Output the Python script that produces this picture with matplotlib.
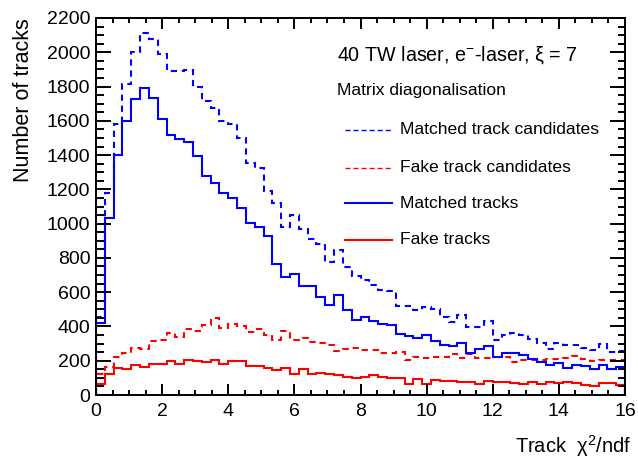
import numpy as np
import matplotlib
matplotlib.use("Agg")
import matplotlib.pyplot as plt
from matplotlib.lines import Line2D
from matplotlib.ticker import MultipleLocator

plt.rcParams['font.family'] = ['Liberation Sans', 'DejaVu Sans']
plt.rcParams['mathtext.fontset'] = 'custom'
plt.rcParams['mathtext.rm'] = 'Liberation Sans'
plt.rcParams['mathtext.it'] = 'Liberation Sans:italic'

# chi2/ndf histograms, 60 bins from 0 to 16
edges = np.linspace(0, 16, 61)

matched_cand = [457, 1176, 1584, 1817, 2002, 2113, 2080, 1992, 1889, 1889,
                1899, 1798, 1714, 1677, 1598, 1584, 1497, 1355, 1326, 1191,
                1121, 982, 1053, 966, 913, 884, 777, 845, 748, 694,
                670, 641, 615, 608, 520, 520, 495, 515, 502, 455,
                428, 464, 395, 395, 432, 321, 353, 364, 353, 325,
                303, 271, 303, 293, 293, 275, 265, 297, 252, 256]

fake_cand = [120, 163, 219, 247, 275, 269, 318, 321, 363, 336,
             387, 374, 406, 449, 391, 415, 400, 368, 387, 350,
             321, 374, 321, 331, 312, 303, 293, 256, 271, 275,
             265, 265, 247, 247, 250, 204, 219, 213, 219, 219,
             241, 215, 241, 213, 213, 219, 219, 191, 206, 204,
             206, 209, 209, 213, 228, 209, 200, 206, 206, 204]

matched = [418, 1030, 1399, 1598, 1726, 1794, 1734, 1609, 1516, 1493,
           1477, 1394, 1277, 1240, 1180, 1147, 1092, 1001, 982, 927,
           762, 690, 709, 637, 636, 572, 528, 584, 497, 436,
           455, 434, 415, 409, 355, 345, 333, 352, 315, 294,
           288, 306, 243, 271, 286, 224, 243, 247, 232, 209,
           194, 176, 187, 159, 176, 172, 153, 176, 150, 163]

fake = [67, 125, 159, 150, 176, 166, 181, 181, 200, 181,
        204, 196, 194, 204, 181, 198, 198, 170, 170, 157,
        144, 157, 123, 150, 123, 129, 121, 116, 107, 97,
        107, 116, 107, 97, 97, 64, 92, 65, 88, 82,
        79, 75, 73, 65, 79, 73, 75, 69, 65, 75,
        64, 75, 69, 73, 69, 60, 54, 69, 69, 60]

labels = ["Matched track candidates", "Fake track candidates",
          "Matched tracks", "Fake tracks"]

W, H = 638, 458
fig = plt.figure(figsize=(W / 100, H / 100), dpi=100)
ax = fig.add_axes([96 / W, 1 - 395 / H, 529 / W, 377 / H])

dash = (0, (3.0, 2.3))
lw = 1.5
ax.stairs(matched_cand, edges, color='#0000ff', lw=lw, linestyle=dash, baseline=0)
ax.stairs(fake_cand, edges, color='#ff0000', lw=lw, linestyle=dash, baseline=0)
ax.stairs(matched, edges, color='#0000ff', lw=lw, baseline=0)
ax.stairs(fake, edges, color='#ff0000', lw=lw, baseline=0)

ax.set_xlim(0, 16)
ax.set_ylim(0, 2200)
ax.xaxis.set_major_locator(MultipleLocator(2))
ax.xaxis.set_minor_locator(MultipleLocator(0.5))
ax.yaxis.set_major_locator(MultipleLocator(200))
ax.yaxis.set_minor_locator(MultipleLocator(50))

for s in ax.spines.values():
    s.set_linewidth(1.4)
ax.tick_params(axis='both', which='both', direction='in', width=1.4,
               top=True, right=True, labelsize=14, colors='black')
ax.tick_params(axis='y', which='major', length=10.8, pad=4.0)
ax.tick_params(axis='y', which='minor', length=5.4)
ax.tick_params(axis='x', which='major', length=7.7, pad=5.5)
ax.tick_params(axis='x', which='minor', length=3.8)

ax.set_ylabel("Number of tracks", fontsize=15.5, loc='top')
ax.yaxis.set_label_coords(-0.118, 1.0)
ax.set_xlabel("Track  χ$^{2}$/ndf", fontsize=14.5, loc='right')
ax.xaxis.set_label_coords(1.012, -0.1)


def fx(px):
    return px / W


def fy(py):
    return 1 - py / H


fig.text(fx(337), fy(55), "40 TW laser, e$^{-}$-laser, ξ = 7", fontsize=14.2, va='center')
fig.text(fx(337), fy(90), "Matrix diagonalisation", fontsize=12.6, va='center')

# legend drawn by hand
rows = [130, 168, 203, 240]
styles = [('#0000ff', (0, (3.6, 2.2)), 1.0), ('#ff0000', (0, (3.6, 2.2)), 1.0),
          ('#0000ff', '-', 1.5), ('#ff0000', '-', 1.5)]
for py, lab, (c, ls, w) in zip(rows, labels, styles):
    fig.add_artist(Line2D([fx(345), fx(392)], [fy(py), fy(py)], color=c,
                          linestyle=ls, lw=w, transform=fig.transFigure))
    fig.text(fx(400), fy(py), lab, fontsize=12.6, va='center')

fig.savefig("out.png", dpi=100)
